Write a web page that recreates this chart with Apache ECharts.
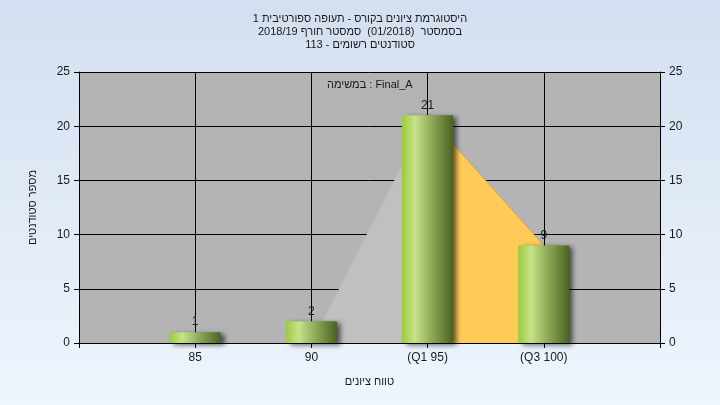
<!DOCTYPE html>
<html>
<head>
<meta charset="utf-8">
<script src="https://cdn.jsdelivr.net/npm/echarts@6/dist/echarts.min.js"></script>
<style>
html,body{margin:0;padding:0;}
#c{width:720px;height:405px;}
</style>
</head>
<body>
<div id="c"></div>
<script>
// ---- data ----
const categories = ['', '85', '90', '(Q1 95)', '(Q3 100)', ''];
const counts = ['-', 1, 2, 21, 9, '-'];
const lowerArea = ['-', '-', 0, 21, '-', '-'];
const iqrArea = ['-', '-', '-', 21, 9, '-'];
const titleLines = [
  'היסטוגרמת ציונים בקורס - תעופה ספורטיבית 1',
  'בסמסטר  (01/2018)  סמסטר חורף 2018/19',
  'סטודנטים רשומים - 113'
];
const taskLabel = 'במשימה : Final_A';
const xName = 'טווח ציונים';
const yName = 'מספר סטודנטים';
const yTicks = { min: 0, max: 25, interval: 5 };

// ---- rendering ----
const FONT = '"Liberation Sans", Arial, sans-serif';
const TXT = '#1a1a1a';

const chart = echarts.init(document.getElementById('c'), null, { renderer: 'canvas' });
const barGrad = new echarts.graphic.LinearGradient(0, 0, 1, 0, [
  { offset: 0, color: '#9cca3c' },
  { offset: 0.25, color: '#c6e38a' },
  { offset: 0.6, color: '#8aa655' },
  { offset: 1, color: '#4a6421' }
]);
const yAxisCommon = {
  type: 'value',
  min: yTicks.min, max: yTicks.max, interval: yTicks.interval,
  axisLine: { show: true, lineStyle: { color: '#000', width: 1 } },
  axisTick: { show: true, length: 5, lineStyle: { color: '#000' } },
  axisLabel: { fontSize: 12, fontFamily: FONT, color: TXT, margin: 9 },
  splitLine: { show: true, lineStyle: { color: '#000', width: 1 } }
};
chart.setOption({
  backgroundColor: new echarts.graphic.LinearGradient(0, 0, 0, 1, [
    { offset: 0, color: '#d3dff0' },
    { offset: 1, color: '#eef5fd' }
  ]),
  animation: false,
  title: {
    text: titleLines.join('\n'),
    left: 'center',
    top: 12,
    padding: 0,
    textStyle: { fontSize: 11, fontWeight: 'normal', fontFamily: FONT, color: TXT, lineHeight: 13 }
  },
  graphic: [{
    type: 'text',
    left: 327, top: 79,
    style: { text: taskLabel, font: '11px ' + FONT, fill: TXT }
  }],
  grid: { left: 79, right: 60, top: 72, bottom: 62, show: true, backgroundColor: '#b4b4b4', borderWidth: 0 },
  xAxis: {
    type: 'category',
    data: categories,
    boundaryGap: false,
    axisLine: { show: true, lineStyle: { color: '#000', width: 1 } },
    axisTick: { show: true, length: 5, lineStyle: { color: '#000' } },
    axisLabel: { fontSize: 12, fontFamily: FONT, color: TXT, margin: 9, interval: 0 },
    splitLine: { show: true, lineStyle: { color: '#000', width: 1 } },
    name: xName,
    nameLocation: 'middle',
    nameGap: 33,
    nameTextStyle: { fontSize: 11, fontFamily: FONT, color: TXT }
  },
  yAxis: [
    Object.assign({}, yAxisCommon, {
      position: 'left',
      name: yName,
      nameLocation: 'middle',
      nameRotate: 90,
      nameGap: 41,
      nameTextStyle: { fontSize: 11, fontFamily: FONT, color: TXT }
    }),
    Object.assign({}, yAxisCommon, { position: 'right', splitLine: { show: false } })
  ],
  series: [
    {
      type: 'line', data: lowerArea, yAxisIndex: 0, symbol: 'none', silent: true,
      lineStyle: { width: 0, color: '#c0c0c0' },
      areaStyle: { color: '#c0c0c0', opacity: 1 }, z: 1
    },
    {
      type: 'line', data: iqrArea, yAxisIndex: 0, symbol: 'none', silent: true,
      lineStyle: { width: 1, color: '#d9a43a' },
      areaStyle: { color: '#fecb58', opacity: 1 }, z: 1
    },
    {
      type: 'bar', data: counts, yAxisIndex: 0, barWidth: 51, z: 3,
      itemStyle: {
        color: barGrad,
        shadowColor: 'rgba(0,0,0,0.6)', shadowBlur: 5, shadowOffsetX: 4, shadowOffsetY: 2
      },
      label: { show: true, position: 'top', distance: 4, fontSize: 12, fontFamily: FONT, color: '#1a1a2a' }
    }
  ]
});
</script>
</body>
</html>
